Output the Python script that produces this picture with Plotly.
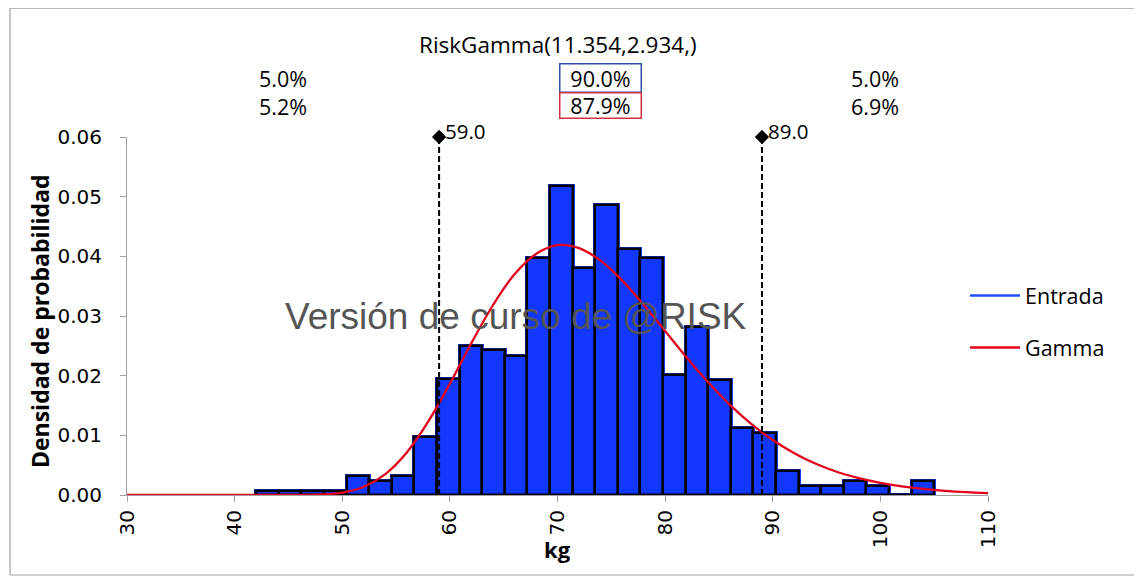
import plotly.graph_objects as go

# ---- data ----
bin_start = 42.0
bin_width = 2.1
entrada_density = [0.0006, 0.0006, 0.0006, 0.0006, 0.0032, 0.0024, 0.0032, 0.0097,
                   0.0194, 0.0250, 0.0243, 0.0233, 0.0397, 0.0518, 0.0380, 0.0486,
                   0.0412, 0.0397, 0.0201, 0.0282, 0.0193, 0.0113, 0.0104, 0.0041,
                   0.0015, 0.0015, 0.0024, 0.0015, 0.0000, 0.0024]

gamma_x = [30, 32, 34, 36, 38, 40, 42, 44, 46, 48, 50, 52, 54, 56, 58, 60, 62, 64, 66, 68,
           70, 72, 74, 76, 78, 80, 82, 84, 86, 88, 90, 92, 94, 96, 98, 100, 102, 104, 106, 108, 110]
gamma_y = [0, 0, 0, 0, 0, 0, 0, 0, 0.00001, 0.00008, 0.00041, 0.00139, 0.00351, 0.00714,
           0.01233, 0.01867, 0.02546, 0.03180, 0.03698, 0.04040, 0.04188, 0.04137, 0.03928,
           0.03597, 0.03187, 0.02749, 0.02305, 0.01889, 0.01516, 0.01193, 0.00921, 0.00700,
           0.00523, 0.00386, 0.00281, 0.00202, 0.00144, 0.00101, 0.00070, 0.00048, 0.00033]

marker_values = [59.0, 89.0]
marker_labels = ["59.0", "89.0"]
y_top = 0.06

pct_input = ["5.0%", "90.0%", "5.0%"]
pct_fit = ["5.2%", "87.9%", "6.9%"]
title_text = "RiskGamma(11.354,2.934,)"
watermark = "Versión de curso de @RISK"
x_title = "kg"
y_title = "Densidad de probabilidad"

x_ticks = [30, 40, 50, 60, 70, 80, 90, 100, 110]
y_ticks = [0.00, 0.01, 0.02, 0.03, 0.04, 0.05, 0.06]

BLUE = "#1238FF"
RED = "#E3001B"
TXT = "Open Sans"
TICKF = "DejaVu Sans"

bin_centers = [bin_start + bin_width * (i + 0.5) for i in range(len(entrada_density))]

fig = go.Figure()

# blue fill (with a blue halo like the reference)
fig.add_trace(go.Bar(x=bin_centers, y=entrada_density, width=bin_width,
                     marker=dict(color=BLUE, line=dict(color=BLUE, width=4)),
                     showlegend=False, hoverinfo="skip"))
# black outline
fig.add_trace(go.Bar(x=bin_centers, y=entrada_density, width=bin_width,
                     marker=dict(color="rgba(0,0,0,0)", line=dict(color="black", width=2.5)),
                     showlegend=False, hoverinfo="skip"))

# gamma fit curve
fig.add_trace(go.Scatter(x=gamma_x, y=gamma_y, mode="lines", name="Gamma",
                         line=dict(color=RED, width=2.3, shape="spline"),
                         showlegend=False))

# percentile marker lines
for v in marker_values:
    fig.add_trace(go.Scatter(x=[v, v], y=[0, y_top], mode="lines",
                             line=dict(color="black", width=2, dash="6px,3px"),
                             showlegend=False, hoverinfo="skip"))
fig.add_trace(go.Scatter(x=marker_values, y=[y_top] * len(marker_values), mode="markers",
                         marker=dict(symbol="diamond", size=11, color="#000000",
                                     line=dict(width=0), opacity=1),
                         showlegend=False, hoverinfo="skip", cliponaxis=False))

# legend entries
fig.add_trace(go.Scatter(x=[None], y=[None], mode="lines", name="Entrada",
                         line=dict(color="#1F4FFF", width=2.5), legendgroup="a"))
fig.add_trace(go.Scatter(x=[None], y=[None], mode="lines", name="Gamma",
                         line=dict(color=RED, width=2.5), legendgroup="b"))

# annotations
region_x = [(x_ticks[0] + marker_values[0]) / 2,
            (marker_values[0] + marker_values[1]) / 2,
            (marker_values[1] + x_ticks[-1]) / 2]
ann = []
ann.append(dict(x=0.5, xref="paper", y=1.257, yref="paper", yanchor="middle", text=title_text,
                showarrow=False, font=dict(family=TXT, size=22.5, color="black")))
for i, (a, b) in enumerate(zip(pct_input, pct_fit)):
    boxed = (i == 1)
    ann.append(dict(x=region_x[i], xref="x", y=1.1648, yref="paper", yanchor="middle", text=a,
                    showarrow=False, font=dict(family=TXT, size=21.5, color="black"),
                    bordercolor="#2F4FA8" if boxed else "rgba(0,0,0,0)",
                    borderwidth=1.5 if boxed else 0, borderpad=0,
                    width=80, height=27))
    ann.append(dict(x=region_x[i], xref="x", y=1.0866, yref="paper", yanchor="middle", text=b,
                    showarrow=False, font=dict(family=TXT, size=21.5, color="black"),
                    bordercolor="#D0303F" if boxed else "rgba(0,0,0,0)",
                    borderwidth=1.5 if boxed else 0, borderpad=0,
                    width=80, height=24))
for v, lab in zip(marker_values, marker_labels):
    ann.append(dict(x=v, xref="x", y=y_top, yref="y", text=lab, showarrow=False,
                    xanchor="left", yanchor="middle", xshift=4, yshift=6,
                    font=dict(family=TXT, size=20.5, color="black")))
ann.append(dict(x=0.5, xref="paper", y=0.5, yref="paper", text=watermark,
                showarrow=False, font=dict(family="Liberation Sans", size=37, color="#555555"),
                xshift=-42, yshift=0))
ann.append(dict(x=0.5, xref="paper", y=-0.1508, yref="paper", text="<b>" + x_title + "</b>",
                showarrow=False, yanchor="middle",
                font=dict(family=TXT, size=22, color="black")))
ann.append(dict(x=-0.101, xref="paper", y=0.486, yref="paper", text="<b>" + y_title + "</b>",
                showarrow=False, textangle=-90, xanchor="center", yanchor="middle",
                font=dict(family=TXT, size=23, color="black")))

# outer frame lines (paper coords relative to the plot area)
frame = [
    dict(type="line", xref="paper", yref="paper", x0=-0.1359, x1=1.2, y0=1.36, y1=1.36,
         line=dict(color="#A0A0A0", width=1.2)),
    dict(type="line", xref="paper", yref="paper", x0=-0.1359, x1=1.2, y0=-0.2235, y1=-0.2235,
         line=dict(color="#A0A0A0", width=1.2)),
    dict(type="line", xref="paper", yref="paper", x0=-0.1359, x1=-0.1359, y0=-0.2235, y1=1.36,
         line=dict(color="#A0A0A0", width=1.2)),
]

fig.update_layout(
    width=1134, height=569, autosize=False,
    margin=dict(l=119, r=154, t=129, b=82),
    paper_bgcolor="white", plot_bgcolor="white",
    barmode="overlay", bargap=0,
    annotations=ann, shapes=frame,
    legend=dict(x=0.9733, xanchor="left", y=0.4846, yanchor="middle",
                font=dict(family=TXT, size=21.5, color="black"),
                tracegroupgap=21, itemwidth=50, bgcolor="rgba(0,0,0,0)"),
    xaxis=dict(range=[30, 110], tickvals=x_ticks, ticktext=[str(t) for t in x_ticks],
               tickangle=-90, ticks="outside", ticklen=6, tickcolor="#A0A0A0",
               showline=True, linecolor="#A0A0A0", linewidth=1, showgrid=False, zeroline=False,
               tickfont=dict(family=TICKF, size=20, color="black")),
    yaxis=dict(range=[0, 0.06], tickvals=y_ticks, tickformat=".2f",
               ticks="outside", ticklen=6, tickcolor="#A0A0A0",
               showline=True, linecolor="#A0A0A0", linewidth=1, showgrid=False, zeroline=False,
               ticklabelstandoff=14,
               tickfont=dict(family=TICKF, size=20, color="black")),
)

fig.write_html("out.html")
